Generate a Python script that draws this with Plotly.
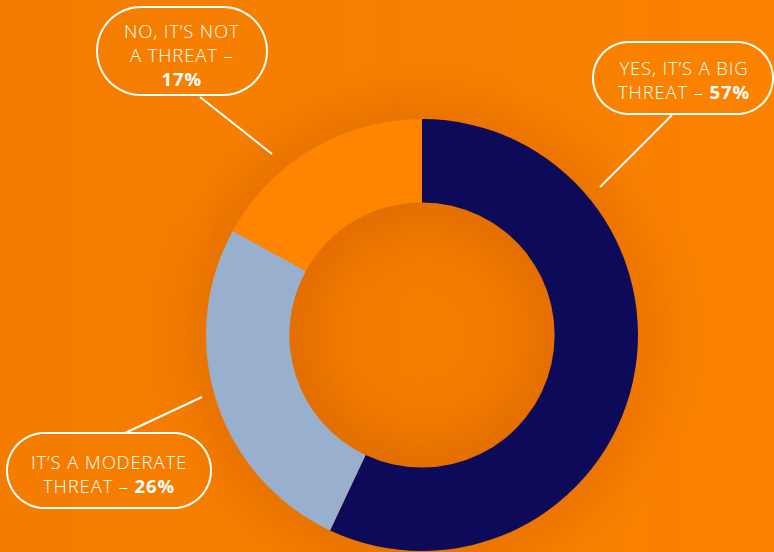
import numpy as np
import plotly.graph_objects as go

# Survey answers, in drawing order (clockwise from 12 o'clock)
answers = ["YES, IT’S A BIG THREAT", "IT’S A MODERATE THREAT", "NO, IT’S NOT A THREAT"]
shares = [57, 26, 17]
slice_colors = ["#0E0A5A", "#98AFCD", "#FF8500"]

# Callout text, one list of lines per answer (HTML for the bold percentage)
callout_lines = [
    ["YES, IT’S A BIG", "THREAT – <b>57%</b>"],
    ["IT’S A MODERATE", "THREAT – <b>26%</b>"],
    ["NO, IT’S NOT", "A THREAT –", "<b>17%</b>"],
]

W, H = 774, 552
BG = "#FB8300"
CX, CY, R_OUT = 422, 335, 216
HOLE = 0.614
R_IN = R_OUT * HOLE

# callout geometry in pixels: (left, top, right, bottom), text centre, leader line
boxes = [
    (593, 42, 773, 114),
    (7, 433, 211, 508),
    (97, 7, 267, 95),
]
text_centres = [(684, 79), (109, 473.5), (182, 54)]
leaders = [
    ((672, 115), (600, 187)),
    ((125, 433), (202, 397)),
    ((200, 97), (272, 154)),
]

FONT_SIZE = 18.5
GLYPH_STYLE = "letter-spacing:0.85px"


def circle_pts(r, n=160, reverse=False):
    t = np.linspace(0, 2 * np.pi, n, endpoint=False)
    if reverse:
        t = t[::-1]
    return CX + r * np.cos(t), CY + r * np.sin(t)


def annulus_path(r1, r2):
    xo, yo = circle_pts(r2)
    xi, yi = circle_pts(r1, reverse=True)
    p = "M" + " L".join(f"{x:.2f},{y:.2f}" for x, y in zip(xo, yo)) + " Z "
    p += "M" + " L".join(f"{x:.2f},{y:.2f}" for x, y in zip(xi, yi)) + " Z"
    return p


def pill_path(x0, y0, x1, y1, n=40):
    r = (y1 - y0) / 2
    cy = (y0 + y1) / 2
    pts = []
    for a in np.linspace(-np.pi / 2, np.pi / 2, n):
        pts.append((x1 - r + r * np.cos(a), cy + r * np.sin(a)))
    for a in np.linspace(np.pi / 2, 3 * np.pi / 2, n):
        pts.append((x0 + r + r * np.cos(a), cy + r * np.sin(a)))
    return "M" + " L".join(f"{x:.2f},{y:.2f}" for x, y in pts) + " Z"


shapes = []
shade = "190,80,0"

# background darkens gently towards the left edge
strip = 6
for x0 in range(0, W, strip):
    a = 0.11 * (1 - (x0 + strip / 2) / W)
    shapes.append(dict(type="rect", x0=x0, x1=x0 + strip, y0=0, y1=H, xref="x", yref="y",
                       fillcolor=f"rgba({shade},{a:.4f})", line=dict(width=0), layer="below"))

# soft shadow around the ring
step = 2
for r in np.arange(R_OUT - 2, R_OUT + 80, step):
    a = 0.22 * np.exp(-((r - R_OUT + 2) / 34.0) ** 2)
    shapes.append(dict(type="path", path=annulus_path(r, r + step), xref="x", yref="y",
                       fillcolor=f"rgba({shade},{a:.4f})", line=dict(width=0), layer="below"))

# shading inside the hole
for r in np.arange(0, R_IN + 2, step):
    d = R_IN - r
    a = 0.04 + 0.30 * np.exp(-(max(d, 0) / 45.0) ** 1.6)
    r0 = max(r, 0.001)
    shapes.append(dict(type="path", path=annulus_path(r0, r + step), xref="x", yref="y",
                       fillcolor=f"rgba({shade},{a:.4f})", line=dict(width=0), layer="below"))

# callout pills and leader lines
for (x0, y0, x1, y1) in boxes:
    shapes.append(dict(type="path", path=pill_path(x0, y0, x1, y1), xref="x", yref="y",
                       line=dict(color="white", width=2), fillcolor="rgba(0,0,0,0)", layer="above"))
for (p, q) in leaders:
    shapes.append(dict(type="line", x0=p[0], y0=p[1], x1=q[0], y1=q[1], xref="x", yref="y",
                       line=dict(color="white", width=2), layer="above"))

annotations = []
for lines, (x, y) in zip(callout_lines, text_centres):
    txt = "<br>".join(f'<span style="{GLYPH_STYLE}">{ln}</span>' for ln in lines)
    annotations.append(dict(
        x=x, y=y, xref="x", yref="y", text=txt, showarrow=False,
        xanchor="center", yanchor="middle", align="center",
        font=dict(family="Open Sans", size=FONT_SIZE, color="white", weight=300)))

fig = go.Figure()
fig.add_trace(go.Pie(
    labels=answers, values=shares, sort=False, direction="clockwise", rotation=0,
    hole=HOLE, marker=dict(colors=slice_colors, line=dict(width=0)),
    textinfo="none", hoverinfo="skip", showlegend=False,
    domain=dict(x=[(CX - R_OUT) / W, (CX + R_OUT) / W],
                y=[(H - CY - R_OUT) / H, (H - CY + R_OUT) / H]),
))
# invisible scatter so the pixel-mapped axes exist
fig.add_trace(go.Scatter(x=[0, W], y=[0, H], mode="markers", marker=dict(opacity=0),
                         hoverinfo="skip", showlegend=False))

fig.update_layout(
    width=W, height=H, margin=dict(l=0, r=0, t=0, b=0),
    paper_bgcolor=BG, plot_bgcolor=BG,
    xaxis=dict(range=[0, W], visible=False, fixedrange=True),
    yaxis=dict(range=[H, 0], visible=False, fixedrange=True),
    shapes=shapes, annotations=annotations,
)
fig.write_html("out.html")
